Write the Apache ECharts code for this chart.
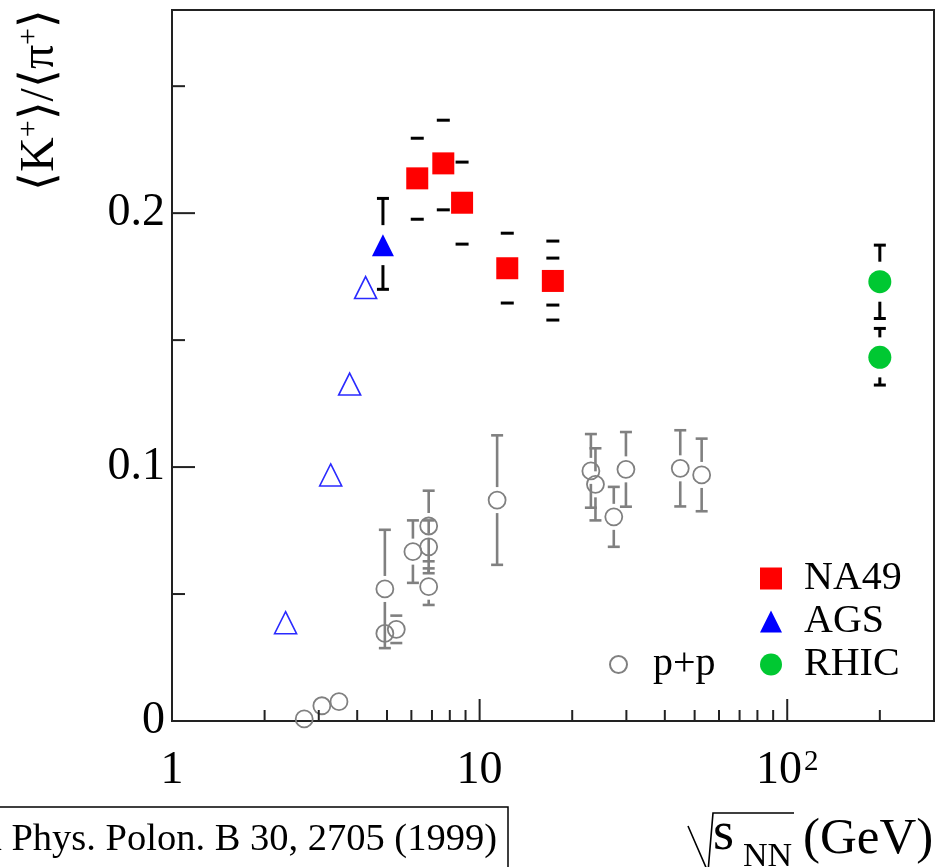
<!DOCTYPE html>
<html><head><meta charset="utf-8">
<script src="https://cdn.jsdelivr.net/npm/echarts@6/dist/echarts.min.js"></script>
<style>html,body{margin:0;padding:0;background:#fff}#c{width:951px;height:867px}</style>
</head><body><div id="c"></div>
<script>
// ---- tick values ----
const xMajorTicks = [1, 10, 100];
const xMinorTicks = [2, 3, 4, 5, 6, 7, 8, 9, 20, 30, 40, 50, 60, 70, 80, 90, 200];
const yMajorTicks = [0, 0.1, 0.2];
const yMinorTicks = [0.05, 0.15, 0.25];

// ---- NA49 ----
const na49X = [6.27, 7.62, 8.77, 12.3, 17.3];
const na49Y = [0.2137, 0.2196, 0.2041, 0.1783, 0.1733];
const na49Sys = [[0.2295, 0.1976], [0.2366, 0.2013], [0.2201, 0.1878], [0.1921, 0.1646], [0.1890, 0.1823, 0.1638, 0.1579]];

// ---- AGS ----
const agsX = [4.85];
const agsY = [0.1874];
const agsLo = [0.1700];
const agsHi = [0.2058];
const agsOpenX = [2.34, 3.28, 3.78, 4.26];
const agsOpenY = [0.0387, 0.0969, 0.1327, 0.1707];

// ---- RHIC ----
const rhicX = [200, 200];
const rhicY = [0.1730, 0.1432];
const rhicLo = [0.1585, 0.1323];
const rhicHi = [0.1874, 0.1546];

// ---- p+p ----
const ppX = [2.69, 3.07, 3.49, 4.92, 4.92, 5.36, 6.07, 6.83, 6.83, 6.83, 11.4, 23.0, 23.8, 27.3, 29.9, 44.9, 52.7];
const ppY = [0.0008, 0.0060, 0.0076, 0.0520, 0.0345, 0.0361, 0.0667, 0.0768, 0.0686, 0.0529, 0.0870, 0.0985, 0.0932, 0.0804, 0.0991, 0.0995, 0.0969];
const ppErr = [0, 0, 0, 0.0233, 0, 0.0054, 0.0123, 0.0139, 0.0104, 0.0072, 0.0255, 0.0145, 0.0142, 0.0118, 0.0147, 0.0150, 0.0143];

const FONT = 'Liberation Serif';
const AX = '#222';

function zip(a, b) { return a.map((v, i) => [v, b[i]]); }

function tickSeries(values, dir, len) {
  return {
    type: 'custom', silent: true, z: 5,
    data: values.map(v => dir === 'x' ? [v, 0] : [1, v]),
    renderItem: function (params, api) {
      const p = api.coord([api.value(0), api.value(1)]);
      const shape = dir === 'x'
        ? { x1: p[0], y1: p[1], x2: p[0], y2: p[1] - len }
        : { x1: p[0], y1: p[1], x2: p[0] + len, y2: p[1] };
      return { type: 'line', shape: shape, style: { stroke: AX, lineWidth: 2 } };
    }
  };
}

function errSeries(data, gap, cap, color, width) {
  return {
    type: 'custom', silent: true, z: 3,
    data: data,
    renderItem: function (params, api) {
      const x = api.value(0), y = api.value(1), lo = api.value(2), hi = api.value(3);
      const c = api.coord([x, y]), pl = api.coord([x, lo]), ph = api.coord([x, hi]);
      const st = { stroke: color, lineWidth: width };
      const ch = [];
      if (c[1] - ph[1] > gap) ch.push({ type: 'line', shape: { x1: c[0], y1: ph[1], x2: c[0], y2: c[1] - gap }, style: st });
      ch.push({ type: 'line', shape: { x1: c[0] - cap, y1: ph[1], x2: c[0] + cap, y2: ph[1] }, style: st });
      if (pl[1] - c[1] > gap) ch.push({ type: 'line', shape: { x1: c[0], y1: c[1] + gap, x2: c[0], y2: pl[1] }, style: st });
      ch.push({ type: 'line', shape: { x1: c[0] - cap, y1: pl[1], x2: c[0] + cap, y2: pl[1] }, style: st });
      return { type: 'group', children: ch };
    }
  };
}

const ppErrData = [];
ppX.forEach((x, i) => { if (ppErr[i] > 0) ppErrData.push([x, ppY[i], ppY[i] - ppErr[i], ppY[i] + ppErr[i]]); });
const agsErrData = agsX.map((x, i) => [x, agsY[i], agsLo[i], agsHi[i]]);
const rhicErrData = rhicX.map((x, i) => [x, rhicY[i], rhicLo[i], rhicHi[i]]);
const na49DashData = [];
na49X.forEach((x, i) => na49Sys[i].forEach(v => na49DashData.push([x, v])));

const chart = echarts.init(document.getElementById('c'), null, { renderer: 'canvas' });
chart.setOption({
  animation: false,
  backgroundColor: '#fff',
  grid: { left: 172, right: 17, top: 10, bottom: 146, show: true, borderColor: AX, borderWidth: 2, backgroundColor: 'transparent' },
  xAxis: {
    type: 'log', logBase: 10, min: 1, max: 300,
    axisLine: { show: true, lineStyle: { color: AX, width: 2 } },
    axisTick: { show: false }, splitLine: { show: false }, minorTick: { show: false },
    axisLabel: {
      margin: 27, color: '#000', fontFamily: FONT, fontSize: 46, lineHeight: 46,
      formatter: function (v) {
        const l = Math.log10(v), r = Math.round(l);
        if (Math.abs(l - r) > 1e-6) return '';
        if (r === 0) return '{a|1}';
        if (r === 1) return '{a|10}';
        return '{a|10}{s|' + r + '}';
      },
      rich: {
        a: { fontFamily: FONT, fontSize: 46, lineHeight: 46, color: '#000' },
        s: { fontFamily: FONT, fontSize: 29, lineHeight: 29, verticalAlign: 'top', color: '#000', padding: [0, 0, 0, 2] }
      }
    }
  },
  yAxis: {
    type: 'value', min: 0, max: 0.28, interval: 0.1,
    axisLine: { show: true, lineStyle: { color: AX, width: 2 } },
    axisTick: { show: false }, splitLine: { show: false },
    axisLabel: {
      margin: 7, color: '#000', fontFamily: FONT, fontSize: 46,
      formatter: function (v) {
        if (Math.abs(v * 10 - Math.round(v * 10)) > 1e-6) return '';
        return String(+v.toFixed(1));
      }
    }
  },
  legend: [
    {
      left: 760, top: 557, orient: 'vertical', padding: 0, itemGap: 0,
      itemWidth: 22, itemHeight: 22, selectedMode: false,
      data: ['NA49', 'AGS', 'RHIC'],
      textStyle: { fontFamily: FONT, fontSize: 40, lineHeight: 43, color: '#000', padding: [0, 0, 0, 17] }
    },
    {
      left: 609, top: 643, orient: 'vertical', padding: 0, itemGap: 0,
      itemWidth: 17, itemHeight: 17, selectedMode: false,
      data: ['p+p'],
      textStyle: { fontFamily: FONT, fontSize: 40, lineHeight: 43, color: '#000', padding: [0, 0, 0, 21] }
    }
  ],
  graphic: [
    {
      type: 'text', x: 40, y: 100, rotation: Math.PI / 2,
      style: {
        text: '{b|⟨K}{p|+}{b|⟩/⟨π}{p|+}{b|⟩}',
        align: 'center', verticalAlign: 'middle',
        rich: {
          b: { fontFamily: FONT, fontSize: 48, lineHeight: 48, verticalAlign: 'bottom', fill: '#000' },
          p: { fontFamily: FONT, fontSize: 30, lineHeight: 30, verticalAlign: 'bottom', padding: [0, 0, 20, 0], fill: '#000' }
        }
      }
    },
    { type: 'polyline', shape: { points: [[688, 826], [708, 872], [713, 813], [794, 813]] }, style: { stroke: '#000', lineWidth: 1.6, fill: null } },
    { type: 'text', x: 713, y: 835, style: { text: 's', fontFamily: FONT, fontSize: 54, fill: '#000', align: 'left', verticalAlign: 'middle' } },
    { type: 'text', x: 743, y: 857, style: { text: 'NN', fontFamily: FONT, fontSize: 34, fill: '#000', align: 'left', verticalAlign: 'middle' } },
    { type: 'text', x: 803, y: 840, style: { text: '(GeV)', fontFamily: FONT, fontSize: 51, fill: '#000', align: 'left', verticalAlign: 'middle' } },
    { type: 'rect', shape: { x: -10, y: 807, width: 518, height: 100 }, style: { stroke: '#000', lineWidth: 1.5, fill: null } },
    { type: 'text', x: 497, y: 840, style: { text: 'Acta Phys. Polon. B 30, 2705 (1999)', fontFamily: FONT, fontSize: 38.5, fill: '#000', align: 'right', verticalAlign: 'middle' } }
  ],
  series: [
    tickSeries(xMajorTicks, 'x', 22),
    tickSeries(xMinorTicks, 'x', 11),
    tickSeries(yMajorTicks, 'y', 23),
    tickSeries(yMinorTicks, 'y', 13),
    errSeries(ppErrData, 13, 6, '#808080', 2.6),
    errSeries(agsErrData, 20, 6, '#000', 3),
    errSeries(rhicErrData, 20, 6, '#000', 3),
    {
      type: 'custom', silent: true, z: 3, data: na49DashData,
      renderItem: function (params, api) {
        const p = api.coord([api.value(0), api.value(1)]);
        return { type: 'line', shape: { x1: p[0] - 6.5, y1: p[1], x2: p[0] + 6.5, y2: p[1] }, style: { stroke: '#000', lineWidth: 3 } };
      }
    },
    {
      name: 'p+p', type: 'scatter', clip: false, z: 4, symbol: 'circle', symbolSize: 17,
      itemStyle: { color: 'rgba(255,255,255,0)', borderColor: '#808080', borderWidth: 1.8, opacity: 1 },
      data: zip(ppX, ppY)
    },
    {
      name: 'AGS open', type: 'scatter', clip: false, z: 4, symbol: 'triangle', symbolSize: 22,
      itemStyle: { color: 'rgba(255,255,255,0)', borderColor: '#2a2aff', borderWidth: 1.6, opacity: 1 },
      data: zip(agsOpenX, agsOpenY)
    },
    {
      name: 'AGS', type: 'scatter', clip: false, z: 4, symbol: 'triangle', symbolSize: 22,
      itemStyle: { color: '#0000ff', opacity: 1 }, data: zip(agsX, agsY)
    },
    {
      name: 'NA49', type: 'scatter', clip: false, z: 4, symbol: 'rect', symbolSize: 22,
      itemStyle: { color: '#ff0000', opacity: 1 }, data: zip(na49X, na49Y)
    },
    {
      name: 'RHIC', type: 'scatter', clip: false, z: 4, symbol: 'circle', symbolSize: 23,
      itemStyle: { color: '#00c832', opacity: 1 }, data: zip(rhicX, rhicY)
    }
  ]
});
</script></body></html>
